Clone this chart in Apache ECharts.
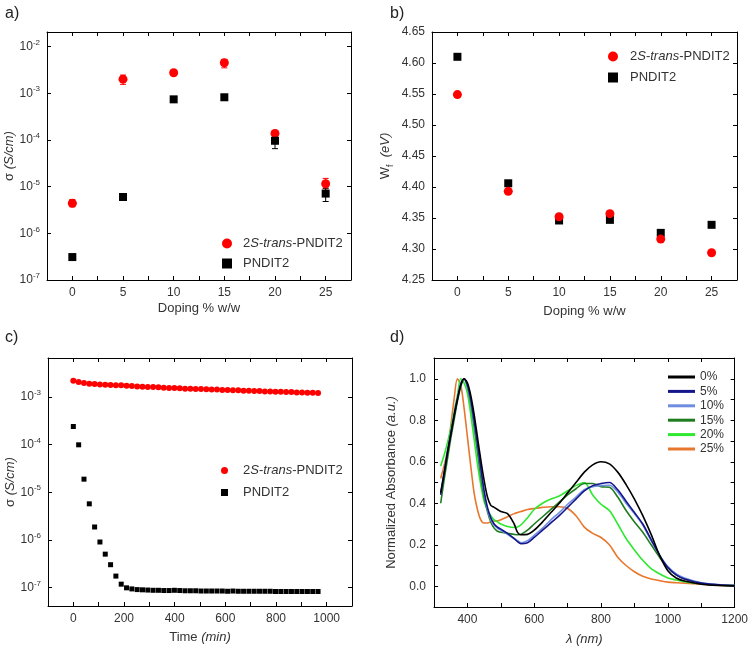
<!DOCTYPE html>
<html><head><meta charset="utf-8">
<script src="https://cdn.jsdelivr.net/npm/echarts@6/dist/echarts.min.js"></script>
<style>html,body{margin:0;padding:0;background:#fff}#chart{width:751px;height:647px}</style>
</head><body><div id="chart"></div>
<script>
// ---------- Data ----------
const dopingLevels = [0, 5, 10, 15, 20, 25];
const condTrans   = [4.4e-6, 2.0e-3, 2.75e-3, 4.5e-3, 1.38e-4, 1.15e-5];
const condTransLo = [3.7e-6, 1.55e-3, 2.45e-3, 3.5e-3, 1.2e-4, 9.0e-6];
const condTransHi = [5.3e-6, 2.45e-3, 3.05e-3, 5.3e-3, 1.6e-4, 1.5e-5];
const condPNDIT2   = [3.1e-7, 6.0e-6, 7.4e-4, 8.2e-4, 9.6e-5, 7.1e-6];
const condPNDIT2Lo = [2.9e-7, 5.6e-6, 6.9e-4, 7.6e-4, 6.5e-5, 4.8e-6];
const condPNDIT2Hi = [3.4e-7, 6.5e-6, 8.0e-4, 8.8e-4, 1.3e-4, 9.3e-6];

const wfTrans  = [4.549, 4.393, 4.352, 4.357, 4.316, 4.294];
const wfPNDIT2 = [4.610, 4.406, 4.346, 4.347, 4.326, 4.339];

const timeMin = [0,21,42,63,84,105,126,147,168,189,210,231,252,273,294,315,336,357,378,399,420,441,462,483,504,525,546,567,588,609,630,651,672,693,714,735,756,777,798,819,840,861,882,903,924,945,966];
const stabTrans = [2.20e-3,2.07e-3,1.97e-3,1.91e-3,1.88e-3,1.84e-3,1.82e-3,1.79e-3,1.76e-3,1.76e-3,1.73e-3,1.70e-3,1.67e-3,1.65e-3,1.62e-3,1.62e-3,1.60e-3,1.57e-3,1.55e-3,1.55e-3,1.52e-3,1.50e-3,1.50e-3,1.47e-3,1.47e-3,1.45e-3,1.43e-3,1.43e-3,1.40e-3,1.40e-3,1.38e-3,1.38e-3,1.36e-3,1.36e-3,1.34e-3,1.34e-3,1.31e-3,1.31e-3,1.29e-3,1.29e-3,1.27e-3,1.27e-3,1.25e-3,1.25e-3,1.23e-3,1.23e-3,1.21e-3];
const stabPNDIT2 = [2.40e-4,9.9e-5,1.88e-5,5.7e-6,1.86e-6,9.0e-7,5.0e-7,3.0e-7,1.73e-7,1.17e-7,9.8e-8,9.3e-8,9.0e-8,8.9e-8,8.8e-8,8.7e-8,8.7e-8,8.6e-8,8.6e-8,8.7e-8,8.6e-8,8.5e-8,8.5e-8,8.5e-8,8.4e-8,8.4e-8,8.4e-8,8.4e-8,8.4e-8,8.3e-8,8.4e-8,8.3e-8,8.3e-8,8.3e-8,8.3e-8,8.3e-8,8.3e-8,8.3e-8,8.2e-8,8.2e-8,8.2e-8,8.2e-8,8.2e-8,8.2e-8,8.2e-8,8.2e-8,8.2e-8];

const wavelength = [320,330,340,350,360,370,380,390,400,410,420,430,440,450,460,470,480,490,500,520,540,550,560,580,600,625,650,675,700,725,750,775,800,825,850,875,900,925,950,975,1000,1025,1050,1100,1150,1200];
const abs0  = [0.45,0.54,0.64,0.73,0.82,0.90,0.97,1.00,0.98,0.92,0.83,0.72,0.61,0.51,0.43,0.39,0.38,0.37,0.36,0.35,0.30,0.26,0.248,0.25,0.27,0.31,0.355,0.40,0.45,0.50,0.55,0.585,0.60,0.59,0.55,0.49,0.42,0.34,0.25,0.15,0.075,0.04,0.025,0.01,0.004,0.002];
const abs5  = [0.44,0.54,0.64,0.73,0.82,0.90,0.97,1.00,0.97,0.90,0.80,0.69,0.57,0.46,0.38,0.33,0.30,0.285,0.275,0.255,0.23,0.215,0.205,0.21,0.235,0.27,0.305,0.34,0.38,0.42,0.46,0.485,0.495,0.50,0.465,0.41,0.355,0.30,0.225,0.15,0.09,0.055,0.035,0.015,0.007,0.003];
const abs10 = [0.45,0.55,0.65,0.74,0.83,0.91,0.98,1.00,0.96,0.89,0.79,0.68,0.56,0.45,0.37,0.32,0.295,0.28,0.27,0.25,0.23,0.22,0.21,0.22,0.245,0.28,0.32,0.355,0.395,0.43,0.465,0.48,0.485,0.487,0.455,0.40,0.35,0.295,0.22,0.15,0.095,0.06,0.04,0.017,0.008,0.003];
const abs15 = [0.40,0.51,0.61,0.71,0.80,0.89,0.96,1.00,0.96,0.88,0.77,0.65,0.53,0.43,0.36,0.31,0.28,0.265,0.26,0.255,0.25,0.248,0.25,0.27,0.30,0.335,0.37,0.405,0.44,0.47,0.495,0.495,0.48,0.477,0.43,0.365,0.31,0.26,0.20,0.14,0.09,0.055,0.035,0.015,0.006,0.003];
const abs20 = [0.58,0.63,0.69,0.76,0.84,0.92,1.00,0.98,0.93,0.83,0.71,0.59,0.49,0.41,0.37,0.34,0.32,0.31,0.30,0.288,0.283,0.285,0.295,0.33,0.37,0.40,0.42,0.435,0.46,0.485,0.50,0.44,0.395,0.365,0.30,0.23,0.175,0.125,0.085,0.06,0.04,0.03,0.022,0.012,0.006,0.003];
const abs25 = [0.52,0.58,0.65,0.77,0.90,1.00,0.97,0.86,0.72,0.58,0.45,0.37,0.32,0.305,0.305,0.31,0.315,0.315,0.32,0.335,0.35,0.355,0.36,0.37,0.375,0.38,0.383,0.383,0.375,0.34,0.285,0.255,0.235,0.20,0.14,0.10,0.07,0.048,0.035,0.027,0.02,0.017,0.015,0.01,0.005,0.002];

// ---------- Helpers ----------
const FONT = '"Liberation Sans", Arial, sans-serif';
const TXT = '#333';
const zip = (xs, ys) => xs.map((x, i) => [x, ys[i]]);
const zip3 = (xs, a, b) => xs.map((x, i) => [x, a[i], b[i]]);

function logLabel(v) {
  const l = Math.log10(v);
  const e = Math.round(l);
  if (Math.abs(l - e) > 1e-6) return '';
  return '{b|10}{s|' + e + '}';
}
const supRich = {
  b: { fontSize: 12, color: TXT, fontFamily: FONT, lineHeight: 16 },
  s: { fontSize: 8, color: TXT, fontFamily: FONT, lineHeight: 8, verticalAlign: 'top' }
};
const nameRich = {
  i: { fontStyle: 'italic', fontSize: 13, color: TXT, fontFamily: FONT },
  n: { fontSize: 13, color: TXT, fontFamily: FONT },
  sub: { fontSize: 9, color: TXT, fontFamily: FONT, verticalAlign: 'bottom', lineHeight: 20 }
};

function axis(extra) {
  return Object.assign({
    axisLine: { show: true, onZero: false, lineStyle: { color: '#000', width: 1 } },
    axisTick: { show: true, inside: true, length: 4, lineStyle: { color: '#000' } },
    splitLine: { show: false },
    axisLabel: { color: TXT, fontSize: 12, fontFamily: FONT, margin: 7 },
    nameLocation: 'middle',
    nameTextStyle: { color: TXT, fontSize: 13, fontFamily: FONT, rich: nameRich }
  }, extra);
}
function mirror(a, pos) {
  const m = JSON.parse(JSON.stringify(a));
  m.position = pos;
  m.name = '';
  m.axisLabel = { show: false };
  return m;
}

const evenInt = (step) => (v) => (Math.abs(v / step - Math.round(v / step)) < 1e-6 ? String(Math.round(v)) : '');

// ---------- Axes ----------
const xA = axis({ gridIndex: 0, type: 'value', min: -2.5, max: 27.5, interval: 2.5, name: 'Doping % w/w', nameGap: 22,
  axisLabel: { color: TXT, fontSize: 12, fontFamily: FONT, margin: 7, formatter: evenInt(5) } });
const xB = axis({ gridIndex: 1, type: 'value', min: -2.5, max: 27.5, interval: 2.5, name: 'Doping % w/w', nameGap: 25,
  axisLabel: { color: TXT, fontSize: 12, fontFamily: FONT, margin: 7, formatter: evenInt(5) } });
const xC = axis({ gridIndex: 2, type: 'value', min: -100, max: 1100, interval: 100, name: '{n|Time }{i|(min)}', nameGap: 25,
  axisLabel: { color: TXT, fontSize: 12, fontFamily: FONT, margin: 7, formatter: evenInt(200) } });
const xD = axis({ gridIndex: 3, type: 'value', min: 300, max: 1200, interval: 100, name: '{i|λ (nm)}', nameGap: 26,
  axisLabel: { color: TXT, fontSize: 12, fontFamily: FONT, margin: 7, formatter: evenInt(200) } });

const yA = axis({ gridIndex: 0, type: 'log', logBase: 10, min: 1e-7, max: 0.0205, name: '{n|σ }{i|(S/cm)}', nameGap: 28,
  axisLabel: { formatter: logLabel, rich: supRich, margin: 7 } });
const yB = axis({ gridIndex: 1, type: 'value', min: 4.25, max: 4.65, interval: 0.05, name: '{n|W}{sub|f}{n|  }{i|(eV)}', nameGap: 37,
  axisLabel: { color: TXT, fontSize: 12, fontFamily: FONT, margin: 7, formatter: (v) => v.toFixed(2) } });
const yC = axis({ gridIndex: 2, type: 'log', logBase: 10, min: 4.07e-8, max: 6.6e-3, name: '{n|σ }{i|(S/cm)}', nameGap: 28,
  axisLabel: { formatter: logLabel, rich: supRich, margin: 7, showMinLabel: false, showMaxLabel: false } });
const yD = axis({ gridIndex: 3, type: 'value', min: -0.1, max: 1.1, interval: 0.1, name: '{n|Normalized Absorbance }{i|(a.u.)}', nameGap: 36,
  axisLabel: { color: TXT, fontSize: 12, fontFamily: FONT, margin: 8, formatter: (v) => { const k = Math.round(v * 10); return (k < 0 || k > 10 || k % 2) ? '' : (k / 10).toFixed(1); } } });

const xAxes = [xA, xB, xC, xD];
const yAxes = [yA, yB, yC, yD];
xAxes.slice().forEach(a => xAxes.push(mirror(a, 'top')));
yAxes.slice().forEach(a => yAxes.push(mirror(a, 'right')));

function errBar(color, data) {
  return {
    type: 'custom', xAxisIndex: 0, yAxisIndex: 0, z: 1, silent: true,
    data: data,
    encode: { x: 0, y: [1, 2] },
    renderItem: function (params, api) {
      const x = api.value(0);
      const p1 = api.coord([x, api.value(1)]);
      const p2 = api.coord([x, api.value(2)]);
      const w = 3;
      const st = { stroke: color, lineWidth: 1 };
      return { type: 'group', children: [
        { type: 'line', shape: { x1: p1[0], y1: p1[1], x2: p2[0], y2: p2[1] }, style: st },
        { type: 'line', shape: { x1: p1[0] - w, y1: p1[1], x2: p1[0] + w, y2: p1[1] }, style: st },
        { type: 'line', shape: { x1: p2[0] - w, y1: p2[1], x2: p2[0] + w, y2: p2[1] }, style: st }
      ] };
    }
  };
}

const RED = '#ff0000';
const lineColors = ['#000000', '#16168c', '#6f8ee0', '#1f7d1f', '#2ee82e', '#e8772e'];
const absSeries = [abs0, abs5, abs10, abs15, abs20, abs25];
const absNames = ['0%', '5%', '10%', '15%', '20%', '25%'];
const barIcon = 'path://M0,0 L27,0 L27,3 L0,3 Z';

const legendFmt = (n) => n === '2S-trans-PNDIT2' ? '{n|2}{i|S}{n|-}{i|trans}{n|-PNDIT2}' : '{n|' + n + '}';
const legRich = {
  n: { fontSize: 13, color: TXT, fontFamily: FONT },
  i: { fontSize: 13, color: TXT, fontFamily: FONT, fontStyle: 'italic' }
};

const option = {
  animation: false,
  backgroundColor: '#fff',
  textStyle: { fontFamily: FONT },
  title: [
    { text: 'a)', left: 0, top: 1, textStyle: { fontSize: 16, fontWeight: 'normal', color: '#222', fontFamily: FONT } },
    { text: 'b)', left: 385, top: 1, textStyle: { fontSize: 16, fontWeight: 'normal', color: '#222', fontFamily: FONT } },
    { text: 'c)', left: 0, top: 325, textStyle: { fontSize: 16, fontWeight: 'normal', color: '#222', fontFamily: FONT } },
    { text: 'd)', left: 385, top: 325, textStyle: { fontSize: 16, fontWeight: 'normal', color: '#222', fontFamily: FONT } }
  ],
  grid: [
    { left: 47, top: 32, width: 304, height: 248 },
    { left: 432, top: 32, width: 305, height: 248 },
    { left: 48, top: 358, width: 304, height: 248 },
    { left: 434, top: 358, width: 304, height: 250 }
  ],
  xAxis: xAxes,
  yAxis: yAxes,
  legend: [
    { orient: 'vertical', left: 222, top: 237, padding: 0, itemWidth: 10, itemHeight: 10, itemGap: 7, selectedMode: false,
      data: [{ name: '2S-trans-PNDIT2', icon: 'circle' }, { name: 'PNDIT2', icon: 'rect' }],
      formatter: legendFmt, textStyle: { rich: legRich, padding: [0, 0, 0, 6] } },
    { orient: 'vertical', left: 608, top: 50, padding: 0, itemWidth: 10, itemHeight: 10, itemGap: 8, selectedMode: false,
      data: [{ name: '2S-trans-PNDIT2', icon: 'circle' }, { name: 'PNDIT2', icon: 'rect' }],
      formatter: legendFmt, textStyle: { rich: legRich, padding: [0, 0, 0, 7] } },
    { orient: 'vertical', left: 221, top: 464, padding: 0, itemWidth: 7, itemHeight: 7, itemGap: 9, selectedMode: false,
      data: [{ name: '2S-trans-PNDIT2', icon: 'circle' }, { name: 'PNDIT2', icon: 'rect' }],
      formatter: legendFmt, textStyle: { rich: legRich, padding: [0, 0, 0, 10] } },
    { orient: 'vertical', left: 668, top: 370, padding: 0, itemWidth: 27, itemHeight: 3, itemGap: 0.4, selectedMode: false,
      data: absNames.map(n => ({ name: n, icon: barIcon })),
      textStyle: { fontSize: 12, color: TXT, fontFamily: FONT, lineHeight: 14 } }
  ],
  series: [
    errBar(RED, zip3(dopingLevels, condTransLo, condTransHi)),
    errBar('#000', zip3(dopingLevels, condPNDIT2Lo, condPNDIT2Hi)),
    { name: '2S-trans-PNDIT2', type: 'scatter', xAxisIndex: 0, yAxisIndex: 0, symbol: 'circle', symbolSize: 9, z: 2,
      itemStyle: { color: RED, opacity: 1 }, data: zip(dopingLevels, condTrans) },
    { name: 'PNDIT2', type: 'scatter', xAxisIndex: 0, yAxisIndex: 0, symbol: 'rect', symbolSize: 8, z: 3,
      itemStyle: { color: '#000', opacity: 1 }, data: zip(dopingLevels, condPNDIT2) },

    { name: 'PNDIT2', type: 'scatter', xAxisIndex: 1, yAxisIndex: 1, symbol: 'rect', symbolSize: 8, z: 2,
      itemStyle: { color: '#000', opacity: 1 }, data: zip(dopingLevels, wfPNDIT2) },
    { name: '2S-trans-PNDIT2', type: 'scatter', xAxisIndex: 1, yAxisIndex: 1, symbol: 'circle', symbolSize: 9, z: 3,
      itemStyle: { color: RED, opacity: 1 }, data: zip(dopingLevels, wfTrans) },

    { name: '2S-trans-PNDIT2', type: 'scatter', xAxisIndex: 2, yAxisIndex: 2, symbol: 'circle', symbolSize: 6,
      itemStyle: { color: RED, opacity: 1 }, data: zip(timeMin, stabTrans) },
    { name: 'PNDIT2', type: 'scatter', xAxisIndex: 2, yAxisIndex: 2, symbol: 'rect', symbolSize: 5,
      itemStyle: { color: '#000', opacity: 1 }, data: zip(timeMin, stabPNDIT2) }
  ].concat(absSeries.map((vals, i) => ({
    name: absNames[i], type: 'line', xAxisIndex: 3, yAxisIndex: 3, symbol: 'none', smooth: 0.3,
    lineStyle: { color: lineColors[i], width: 1.6 }, itemStyle: { color: lineColors[i] },
    z: 2 + (5 - i), data: zip(wavelength, vals)
  })))
};

const chart = echarts.init(document.getElementById('chart'), null, { renderer: 'canvas' });
chart.setOption(option);
</script></body></html>
